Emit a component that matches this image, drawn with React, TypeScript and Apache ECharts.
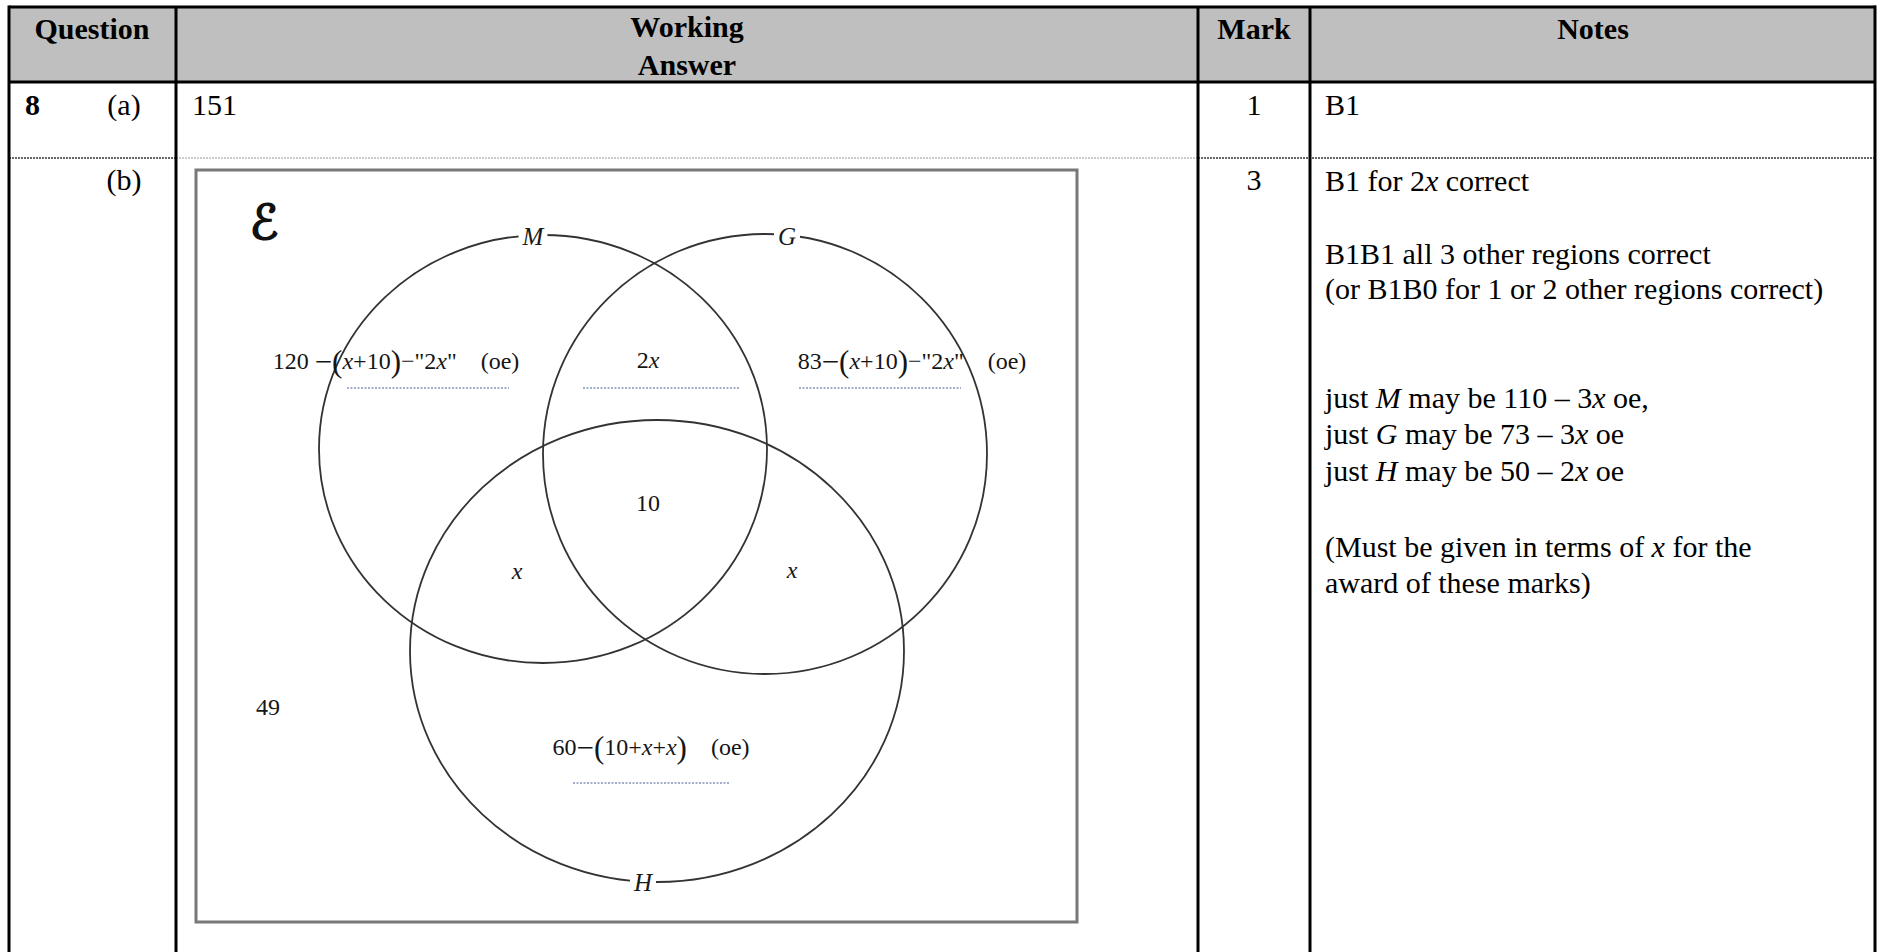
import React, { useEffect, useRef } from 'react';
import * as echarts from 'echarts';

// ---------- content ----------
const headerLabels = ['Question', 'Working', 'Answer', 'Mark', 'Notes'];
const questionNumber = '8';
const partLabels = ['(a)', '(b)'];
const answerA = '151';
const marks = ['1', '3'];
const notesA = 'B1';
const notesB = [
  'B1 for 2{i|x} correct',
  'B1B1 all 3 other regions correct',
  '(or B1B0 for 1 or 2 other regions correct)',
  'just {i|M} may be 110 – 3{i|x} oe,',
  'just {i|G} may be 73 – 3{i|x} oe',
  'just {i|H} may be 50 – 2{i|x} oe',
  '(Must be given in terms of {i|x} for the',
  'award of these marks)',
];
const universalSymbol = 'ℰ';
const vennSets = ['M', 'G', 'H'];
const vennRegions = [
  '120 {p|−(}{i|x}+10{p|)}−"2{i|x}"    (oe)',
  '2{i|x}',
  '83{p|−(}{i|x}+10{p|)}−"2{i|x}"    (oe)',
  '10',
  '{i|x}',
  '{i|x}',
  '49',
  '60{p|−(}10+{i|x}+{i|x}{p|)}    (oe)',
];

// ---------- layout (positions / sizes) ----------
const SERIF = "'Liberation Serif', 'Times New Roman', serif";
const TBL = { left: 9, right: 1876, top: 7, head: 82, rowSep: 158, bottom: 952 };
const COLS = [176, 1198, 1310];
const headerPos = [
  [92, 28],
  [687, 26],
  [687, 64],
  [1254, 28],
  [1593, 28],
];
const notesY = [180, 253, 288, 397, 433, 470, 546, 582];
const BOX = { x1: 196, y1: 170, x2: 1077, y2: 922 };
const ellipses = [
  { cx: 543, cy: 449, rx: 224, ry: 214 },
  { cx: 765, cy: 454, rx: 222, ry: 220 },
  { cx: 657, cy: 651, rx: 247, ry: 231 },
];
const setLabelPos = [
  [533, 236],
  [787, 236],
  [643, 882],
];
const regionPos = [
  [396, 361],
  [648, 360],
  [912, 361],
  [648, 503],
  [517, 571],
  [792, 570],
  [268, 707],
  [651, 747],
];
const dottedLines = [
  [347, 509, 388],
  [583, 739, 388],
  [799, 961, 388],
  [573, 729, 783],
];

function txt(x: number, y: number, text: string, o: any = {}) {
  const size = o.fontSize || 30;
  const fam = o.fontFamily || SERIF;
  const fill = o.fill || '#000';
  return {
    type: 'text',
    x,
    y,
    z: 10,
    style: {
      text,
      fontFamily: fam,
      fontSize: size,
      fontWeight: o.fontWeight || 'normal',
      fontStyle: o.fontStyle || 'normal',
      fill,
      stroke: o.stroke,
      lineWidth: o.lineWidth,
      align: o.align || 'left',
      textAlign: o.align || 'left',
      verticalAlign: 'middle',
      textVerticalAlign: 'middle',
      backgroundColor: o.backgroundColor,
      padding: o.padding,
      rich: {
        i: { fontFamily: fam, fontSize: size, fontStyle: 'italic', fill },
        p: { fontFamily: fam, fontSize: Math.round(size * 1.3), fill },
      },
    },
  };
}

function line(x1: number, y1: number, x2: number, y2: number, stroke = '#000', lineWidth = 3, lineDash?: number[]) {
  return {
    type: 'line',
    z: 5,
    shape: { x1, y1, x2, y2 },
    style: { stroke, lineWidth, lineDash },
  };
}

function buildOption() {
  const g: any[] = [];
  // header background
  g.push({
    type: 'rect',
    z: 1,
    shape: { x: TBL.left, y: TBL.top, width: TBL.right - TBL.left, height: TBL.head - TBL.top },
    style: { fill: '#bfbfbf' },
  });
  // dotted row separator
  g.push(line(TBL.left, TBL.rowSep, COLS[0], TBL.rowSep, '#333', 1.5, [2, 1]));
  g.push(line(COLS[0], TBL.rowSep, COLS[1], TBL.rowSep, '#999', 1, [2, 1]));
  g.push(line(COLS[1], TBL.rowSep, TBL.right, TBL.rowSep, '#333', 1.5, [2, 1]));
  // table border lines
  g.push(line(TBL.left, TBL.top, TBL.right, TBL.top));
  g.push(line(TBL.left, TBL.head, TBL.right, TBL.head));
  g.push(line(TBL.left, TBL.top - 1.5, TBL.left, TBL.bottom));
  g.push(line(TBL.right - 1, TBL.top - 1.5, TBL.right - 1, TBL.bottom));
  COLS.forEach((c) => g.push(line(c, TBL.top, c, TBL.bottom)));

  // header texts
  headerLabels.forEach((h, i) => {
    g.push(txt(headerPos[i][0], headerPos[i][1], h, { fontWeight: 'bold', align: 'center' }));
  });

  // row (a)
  const yA = 104;
  g.push(txt(25, yA, questionNumber, { fontWeight: 'bold' }));
  g.push(txt(124, yA, partLabels[0], { align: 'center' }));
  g.push(txt(192, yA, answerA));
  g.push(txt(1254, yA, marks[0], { align: 'center' }));
  g.push(txt(1325, yA, notesA));

  // row (b)
  const yB = 179;
  g.push(txt(124, yB, partLabels[1], { align: 'center' }));
  g.push(txt(1254, yB, marks[1], { align: 'center' }));
  notesB.forEach((n, i) => g.push(txt(1325, notesY[i], n)));

  // Venn box
  g.push({
    type: 'rect',
    z: 2,
    shape: { x: BOX.x1, y: BOX.y1, width: BOX.x2 - BOX.x1, height: BOX.y2 - BOX.y1 },
    style: { fill: '#fff', stroke: '#787878', lineWidth: 3 },
  });
  // circles
  ellipses.forEach((e) => {
    g.push({
      type: 'ellipse',
      z: 3,
      shape: e,
      style: { fill: 'none', stroke: '#333', lineWidth: 1.8 },
    });
  });
  // set labels
  vennSets.forEach((s, i) => {
    g.push(
      txt(setLabelPos[i][0], setLabelPos[i][1], s, {
        fontSize: 25,
        fontStyle: 'italic',
        align: 'center',
        fill: '#1a1a1a',
        backgroundColor: '#fff',
        padding: [0, 4],
      })
    );
  });
  // universal set symbol
  g.push(
    txt(264, 222, universalSymbol, {
      fontSize: 48,
      fontFamily: "'DejaVu Serif', 'DejaVu Sans', serif",
      fontStyle: 'italic',
      align: 'center',
      fill: '#111',
      stroke: '#111',
      lineWidth: 1.6,
    })
  );
  // region labels
  vennRegions.forEach((r, i) => {
    g.push(txt(regionPos[i][0], regionPos[i][1], r, { fontSize: 24, align: 'center', fill: '#151515' }));
  });
  // dotted answer lines
  dottedLines.forEach((d) => g.push(line(d[0], d[2], d[1], d[2], '#8494bb', 1.6, [2, 1.5])));

  return {
    animation: false,
    backgroundColor: '#fff',
    graphic: { elements: g },
  };
}

export default function App() {
  const ref = useRef<HTMLDivElement>(null);
  useEffect(() => {
    const chart = echarts.init(ref.current as HTMLDivElement, null, { renderer: 'svg' });
    chart.setOption(buildOption());
    return () => chart.dispose();
  }, []);
  return (
    <div
      ref={ref}
      style={{ position: 'absolute', left: 0, top: 0, width: 1877, height: 952, background: '#fff' }}
    />
  );
}
